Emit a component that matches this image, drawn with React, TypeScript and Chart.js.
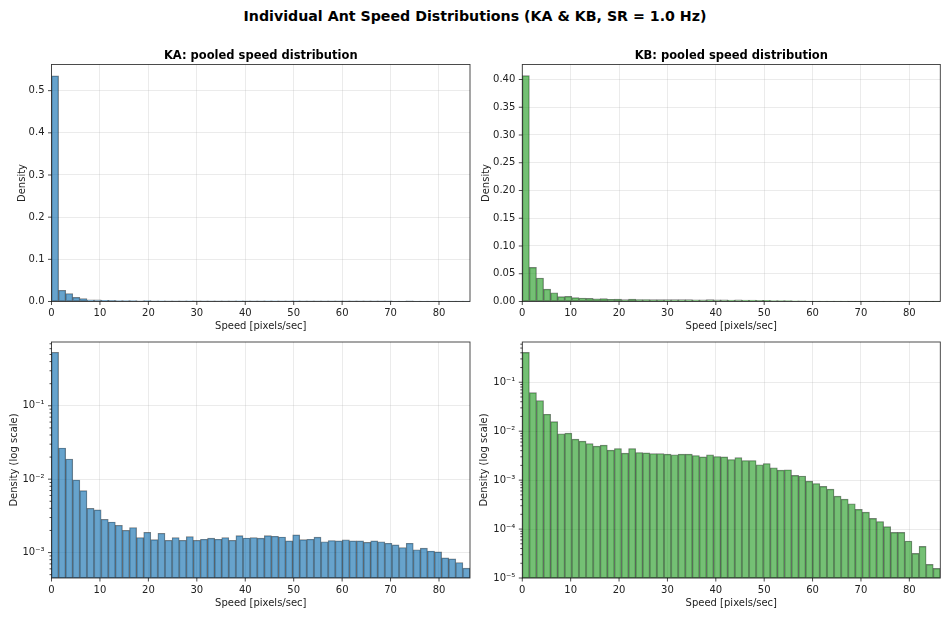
import React, { useEffect, useRef } from "react";
import { Chart, registerables } from "chart.js";

Chart.register(...registerables);

// ---- data ----
const SPEED_MAX = 86.4; // right edge of last histogram bin [pixels/sec]
const BIN_COUNT = 59;
const xTickValues = [0, 10, 20, 30, 40, 50, 60, 70, 80];
const kaLinearTicks = [0, 0.1, 0.2, 0.3, 0.4, 0.5];
const kbLinearTicks = [0, 0.05, 0.1, 0.15, 0.2, 0.25, 0.3, 0.35, 0.4];

const kaDensity = [
  0.535, 0.0266, 0.0188, 0.00975, 0.00698, 0.00401, 0.00381, 0.00284, 0.00261, 0.00235,
  0.00201, 0.00219, 0.0016, 0.00189, 0.0015, 0.00183, 0.00147, 0.0016, 0.00147, 0.00165,
  0.00147, 0.00152, 0.00157, 0.00152, 0.0016, 0.00147, 0.0017, 0.00158, 0.0016, 0.00157,
  0.0017, 0.00167, 0.00163, 0.00144, 0.00174, 0.0015, 0.00152, 0.00162, 0.0014, 0.00146,
  0.00144, 0.00149, 0.00144, 0.00144, 0.00138, 0.00144, 0.0014, 0.00134, 0.00127, 0.00117,
  0.00134, 0.00109, 0.00115, 0.00105, 0.00102, 0.000846, 0.00082, 0.000731, 0.000612,
];

const kbDensity = [
  0.407, 0.0615, 0.0423, 0.0222, 0.0157, 0.00883, 0.0091, 0.00687, 0.00625, 0.0056,
  0.00494, 0.00518, 0.00409, 0.00443, 0.00356, 0.00443, 0.00367, 0.00361, 0.0035, 0.0035,
  0.0034, 0.00329, 0.0034, 0.0034, 0.00319, 0.00299, 0.00329, 0.00304, 0.00299, 0.00264,
  0.0029, 0.00252, 0.00252, 0.00206, 0.00219, 0.00179, 0.0016, 0.00163, 0.00125, 0.00121,
  0.000955, 0.000855, 0.000743, 0.000655, 0.000471, 0.000409, 0.000329, 0.000252, 0.000222, 0.000165,
  0.000143, 0.000112, 0.0000855, 0.0000855, 0.0000569, 0.0000318, 0.0000443, 0.000019, 0.0000157,
];

const FONT = "'DejaVu Sans', sans-serif";
const KA_FILL = "rgba(31,119,180,0.68)";
const KB_FILL = "rgba(44,160,44,0.66)";
const EDGE = "rgba(0,0,0,0.5)";
const GRID = "rgba(176,176,176,0.32)";
const SPINE = "rgba(0,0,0,0.78)";

const binWidth = SPEED_MAX / BIN_COUNT;
const binCenters = Array.from({ length: BIN_COUNT }, (_, i) => (i + 0.5) * binWidth);

const SUP: Record<string, string> = {
  "-": "\u207B", "0": "\u2070", "1": "\u00B9", "2": "\u00B2", "3": "\u00B3",
  "4": "\u2074", "5": "\u2075", "6": "\u2076", "7": "\u2077", "8": "\u2078", "9": "\u2079",
};
const isPow10 = (v: number) => Math.abs(Math.log10(v) - Math.round(Math.log10(v))) < 1e-6;
const powLabel = (v: number) =>
  "10" + String(Math.round(Math.log10(v))).split("").map((c) => SUP[c] || c).join("");

function logTicks(min: number, max: number) {
  const out: { value: number; isMajor: boolean }[] = [];
  for (let d = Math.floor(Math.log10(min)); d <= Math.ceil(Math.log10(max)); d++) {
    for (let m = 1; m <= 9; m++) {
      const v = parseFloat((m * Math.pow(10, d)).toPrecision(6));
      if (v >= min * 0.9999 && v <= max * 1.0001) out.push({ value: v, isMajor: m === 1 });
    }
  }
  return out;
}

const frameTicksPlugin = {
  id: "frameTicks",
  afterDatasetsDraw(chart: any) {
    const { ctx, chartArea: a } = chart;
    ctx.save();
    ctx.strokeStyle = SPINE;
    ctx.lineWidth = 0.9;
    ctx.strokeRect(a.left, a.top, a.right - a.left, a.bottom - a.top);
    ctx.beginPath();
    const xs = chart.scales.x;
    for (const t of xs.ticks) {
      const px = xs.getPixelForValue(t.value);
      ctx.moveTo(px, a.bottom);
      ctx.lineTo(px, a.bottom + 3.5);
    }
    const ys = chart.scales.y;
    for (const t of ys.ticks) {
      const py = ys.getPixelForValue(t.value);
      const len = t.isMajor === false ? 2 : 3.5;
      ctx.moveTo(a.left, py);
      ctx.lineTo(a.left - len, py);
    }
    ctx.stroke();
    ctx.restore();
  },
};

type PanelSpec = {
  left: number;
  top: number;
  width: number;
  height: number;
  title?: string;
  titleTop?: number;
  values: number[];
  fill: string;
  log: boolean;
  yMin: number;
  yMax: number;
  yTicks?: number[];
  yDecimals?: number;
  yLabel: string;
  yAxisWidth: number;
  yTitlePad: number;
  padTop: number;
  padRight: number;
  xAxisHeight: number;
  xTitlePad: number;
};

function Panel({ spec }: { spec: PanelSpec }) {
  const ref = useRef<HTMLCanvasElement | null>(null);
  useEffect(() => {
    const canvas = ref.current;
    if (!canvas) return;
    const yTicksBuilt = spec.log
      ? logTicks(spec.yMin, spec.yMax)
      : (spec.yTicks || []).map((v) => ({ value: v, isMajor: true }));
    const chart = new Chart(canvas, {
      type: "bar",
      data: {
        datasets: [
          {
            data: binCenters.map((x, i) => ({ x, y: spec.values[i] })),
            backgroundColor: spec.fill,
            borderColor: EDGE,
            borderWidth: 0.7,
            borderSkipped: false,
            barPercentage: 1,
            categoryPercentage: 1,
            grouped: false,
          } as any,
        ],
      },
      options: {
        animation: false,
        responsive: false,
        events: [],
        layout: { padding: { top: spec.padTop, right: spec.padRight, left: 0, bottom: 0 } },
        plugins: {
          legend: { display: false },
          tooltip: { enabled: false },
          title: { display: false },
        },
        scales: {
          x: {
            type: "linear",
            min: 0,
            max: SPEED_MAX,
            offset: false,
            grid: { color: GRID, lineWidth: 0.8, drawTicks: false, offset: false },
            border: { display: false },
            ticks: {
              padding: 6,
              color: "#222",
              font: { family: FONT, size: 10 },
              autoSkip: false,
              maxRotation: 0,
              callback: (v: any) => String(v),
            },
            afterBuildTicks: (scale: any) => {
              scale.ticks = xTickValues.map((v) => ({ value: v }));
            },
            afterFit: (scale: any) => {
              scale.height = spec.xAxisHeight;
            },
            title: {
              display: true,
              text: "Speed [pixels/sec]",
              color: "#222",
              font: { family: FONT, size: 10, lineHeight: 1.2 },
              padding: { top: 0, bottom: spec.xTitlePad },
            },
          },
          y: {
            type: spec.log ? "logarithmic" : "linear",
            min: spec.yMin,
            max: spec.yMax,
            grid: {
              color: (ctx: any) =>
                ctx.tick && ctx.tick.isMajor === false ? "rgba(0,0,0,0)" : GRID,
              lineWidth: 0.8,
              drawTicks: false,
            },
            border: { display: false },
            ticks: {
              padding: 7,
              color: "#222",
              font: { family: FONT, size: 10 },
              autoSkip: false,
              callback: (v: any) => {
                const n = Number(v);
                if (spec.log) return isPow10(n) ? powLabel(n) : "";
                return n.toFixed(spec.yDecimals ?? 1);
              },
            },
            afterBuildTicks: (scale: any) => {
              scale.ticks = yTicksBuilt.map((t) => ({ ...t }));
            },
            afterFit: (scale: any) => {
              scale.width = spec.yAxisWidth;
            },
            title: {
              display: true,
              text: spec.yLabel,
              color: "#222",
              font: { family: FONT, size: 10, lineHeight: 1.2 },
              padding: { top: spec.yTitlePad, bottom: 0 },
            },
          },
        },
      } as any,
      plugins: [frameTicksPlugin],
    });
    return () => chart.destroy();
  }, [spec]);
  const axLeft = spec.left + spec.yAxisWidth;
  const axWidth = spec.width - spec.yAxisWidth - spec.padRight;
  return (
    <>
      <div
        style={{
          position: "absolute",
          left: spec.left,
          top: spec.top,
          width: spec.width,
          height: spec.height,
        }}
      >
        <canvas
          ref={ref}
          width={spec.width}
          height={spec.height}
          style={{ width: spec.width, height: spec.height, display: "block" }}
        />
      </div>
      {spec.title ? (
        <div
          style={{
            position: "absolute",
            left: axLeft,
            top: spec.titleTop,
            width: axWidth,
            textAlign: "center",
            fontSize: 11.5,
            lineHeight: "14px",
            fontWeight: "bold",
            color: "#000",
            whiteSpace: "nowrap",
          }}
        >
          {spec.title}
        </div>
      ) : null}
    </>
  );
}

const panels: PanelSpec[] = [
  {
    left: 0, top: 38, width: 475, height: 298,
    title: "KA: pooled speed distribution", titleTop: 48,
    values: kaDensity, fill: KA_FILL, log: false,
    yMin: 0, yMax: 0.562, yTicks: kaLinearTicks, yDecimals: 1,
    yLabel: "Density", yAxisWidth: 51.5, yTitlePad: 16,
    padTop: 26.5, padRight: 5, xAxisHeight: 34.5, xTitlePad: 4,
  },
  {
    left: 475, top: 38, width: 471, height: 298,
    title: "KB: pooled speed distribution", titleTop: 48,
    values: kbDensity, fill: KB_FILL, log: false,
    yMin: 0, yMax: 0.427, yTicks: kbLinearTicks, yDecimals: 2,
    yLabel: "Density", yAxisWidth: 47.3, yTitlePad: 5,
    padTop: 26.5, padRight: 5.7, xAxisHeight: 34.5, xTitlePad: 4,
  },
  {
    left: 0, top: 328.5, width: 475, height: 288.5,
    values: kaDensity, fill: KA_FILL, log: true,
    yMin: 4.5e-4, yMax: 0.74,
    yLabel: "Density (log scale)", yAxisWidth: 51.5, yTitlePad: 8,
    padTop: 13, padRight: 5, xAxisHeight: 39, xTitlePad: 8,
  },
  {
    left: 475, top: 328.5, width: 471, height: 288.5,
    values: kbDensity, fill: KB_FILL, log: true,
    yMin: 1e-5, yMax: 0.665,
    yLabel: "Density (log scale)", yAxisWidth: 47.3, yTitlePad: 3,
    padTop: 13, padRight: 5.7, xAxisHeight: 39, xTitlePad: 8,
  },
];

export default function App() {
  return (
    <div
      style={{
        position: "absolute",
        left: 0,
        top: 0,
        width: 950,
        height: 617,
        overflow: "hidden",
        background: "#fff",
        fontFamily: FONT,
      }}
    >
      <div
        style={{
          position: "absolute",
          left: 0,
          top: 6,
          width: 950,
          textAlign: "center",
          fontSize: 14.2,
          lineHeight: "20px",
          fontWeight: "bold",
          color: "#000",
        }}
      >
        Individual Ant Speed Distributions (KA &amp; KB, SR = 1.0 Hz)
      </div>
      {panels.map((p, i) => (
        <Panel key={i} spec={p} />
      ))}
    </div>
  );
}
